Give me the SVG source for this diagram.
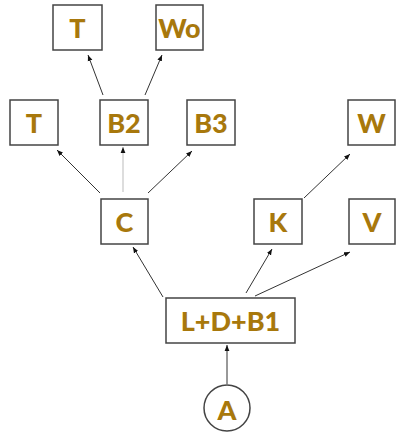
<svg xmlns="http://www.w3.org/2000/svg" width="396" height="434" viewBox="0 0 396 434">
<defs>
<marker id="ah" viewBox="0 0 10 10" refX="10" refY="5" markerWidth="6" markerHeight="6" orient="auto" markerUnits="userSpaceOnUse">
<path d="M0,1 L10,5 L0,9 z" fill="#111"/>
</marker>
<style>
.box{fill:#fff;stroke:#444;stroke-width:1.5}
.lbl{font-family:Lato,"Open Sans","Liberation Sans",sans-serif;font-weight:900;font-size:27px;fill:#A8780C;text-anchor:middle;dominant-baseline:central}
.c{stroke:#333;stroke-width:1;fill:none;marker-end:url(#ah)}
</style>
</defs>
<rect width="396" height="434" fill="#fff"/>
<g id="connectors">
<line class="c" x1="227" y1="384" x2="227" y2="345"/>
<line class="c" x1="163" y1="297" x2="133" y2="247"/>
<line class="c" x1="246" y1="293" x2="272" y2="249"/>
<line class="c" x1="255" y1="296" x2="350" y2="252"/>
<line class="c" x1="304" y1="198" x2="350" y2="154"/>
<line class="c" x1="100" y1="193" x2="57" y2="150"/>
<line class="c" x1="123" y1="192" x2="123" y2="147" style="stroke:#bbb"/>
<line class="c" x1="148" y1="193" x2="192" y2="151"/>
<line class="c" x1="103" y1="95" x2="88" y2="55"/>
<line class="c" x1="145" y1="95" x2="162" y2="55"/>
</g>
<g id="T1"><rect class="box" x="53" y="5" width="49" height="45"/><text class="lbl" x="77.5" y="27.5">T</text></g>
<g id="Wo"><rect class="box" x="156" y="5" width="47" height="45"/><text class="lbl" x="179.5" y="27.5">Wo</text></g>
<g id="T2"><rect class="box" x="10" y="100" width="48" height="45"/><text class="lbl" x="34" y="122.5">T</text></g>
<g id="B2"><rect class="box" x="100" y="100" width="48" height="45"/><text class="lbl" x="124" y="122.5">B2</text></g>
<g id="B3"><rect class="box" x="187" y="100" width="48" height="45"/><text class="lbl" x="211" y="122.5">B3</text></g>
<g id="W"><rect class="box" x="348" y="100" width="47" height="45"/><text class="lbl" x="371.5" y="122.5">W</text></g>
<g id="C"><rect class="box" x="101" y="199" width="47" height="45"/><text class="lbl" x="124.5" y="221.5">C</text></g>
<g id="K"><rect class="box" x="254" y="199" width="48" height="45"/><text class="lbl" x="278" y="221.5">K</text></g>
<g id="V"><rect class="box" x="349" y="199" width="46" height="45"/><text class="lbl" x="372" y="221.5">V</text></g>
<g id="LDB1"><rect class="box" x="166" y="298" width="129" height="45"/><text class="lbl" x="230.5" y="320.5">L+D+B1</text></g>
<g id="A"><circle class="box" cx="227" cy="408" r="23"/><text class="lbl" x="227" y="409">A</text></g>
</svg>
